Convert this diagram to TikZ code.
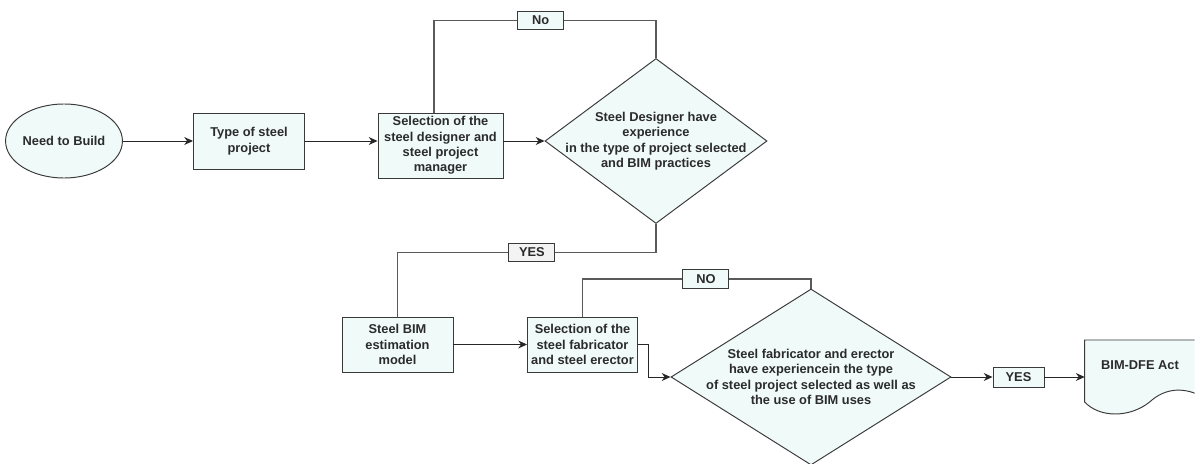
\documentclass[tikz,border=0pt]{standalone}
\usepackage{fontspec}
\setmainfont{Liberation Sans}
\usepackage{tikz}
\usetikzlibrary{calc}
\usetikzlibrary{arrows.meta}
\usetikzlibrary{shapes.geometric}
\usetikzlibrary{backgrounds}
\definecolor{color_box}{HTML}{F0FAF9}
\definecolor{color_yes}{HTML}{F3F3F3}
\definecolor{color_border}{HTML}{3A3A3A}
\definecolor{color_line}{HTML}{5A5A5A}
\definecolor{color_arrow}{HTML}{262626}
\definecolor{color_text}{HTML}{2B2B2B}

\begin{document}
\begin{tikzpicture}[node distance=3.7cm, font=\fontsize{7.3}{8.8}\selectfont\bfseries, text=color_text, align=center]
  \tikzset{ % Specifications for style of nodes:
      base/.style = {rectangle, draw=color_border, line width=0.55pt, fill=color_box, inner sep=1pt, text centered},
      start/.style = {base, ellipse, inner sep=0pt, minimum width=2.24cm, minimum height=1.48cm},
      process/.style = {base, minimum width=2.22cm, minimum height=1.12cm},
      decision/.style = {base, diamond, inner sep=0pt},
      tag/.style = {base, minimum width=0.92cm, minimum height=0.37cm, inner sep=0pt},
      tagyes/.style = {tag, fill=color_yes},
      doc/.style = {minimum width=2.2cm, inner sep=0pt},
      link/.style = {draw=color_line, line width=0.65pt},
      arrow/.style = {draw=color_arrow, line width=0.55pt, -{Stealth[length=5pt, width=4.5pt]}},
  }
  \useasboundingbox (0,0) rectangle (23.9,9.26);
  \node (need) [start] at (1.28,6.44) {Need to Build};
  \node (type) [process, right of=need] {Type of steel\\project};
  \node (designer) [process, right of=type, xshift=0.13cm, yshift=-0.09cm, minimum width=2.5cm, minimum height=1.3cm] {Selection of the\\steel designer and\\steel project\\manager};
  \node (check1) [decision, right of=designer, xshift=0.61cm, yshift=0.09cm, minimum width=4.44cm, minimum height=3.3cm,
    label={center:Steel Designer have\\experience\\in the type of project selected\\and BIM practices}] {};

  \node (bim) [process, below of=designer, xshift=-0.86cm, yshift=-0.28cm, minimum height=1.1cm] {Steel BIM\\estimation\\model};
  \node (fabsel) [process, right of=bim, minimum width=2.2cm, minimum height=1.1cm] {Selection of the\\steel fabricator\\and steel erector};
  \node (check2) [decision, right of=fabsel, xshift=0.87cm, yshift=-0.65cm, minimum width=5.6cm, minimum height=3.52cm,
    label={center:Steel fabricator and erector\\have experiencein the type\\of steel project selected as well as\\the use of BIM uses}] {};
  \node (yes2) [tag, right of=check2, xshift=0.45cm, minimum width=1.02cm, minimum height=0.4cm] {YES};
  \node (act) [doc, right of=yes2, xshift=-1.27cm, yshift=0.24cm] {BIM-DFE Act};
  \begin{scope}[on background layer, shift={(act.west)}]
    \clip (-0.1,-1.2) rectangle (2.2,0.6);
    \draw[base] (0,0.5) -- (2.4,0.5) -- (2.4,-0.66) .. controls (2.0,-0.42) and (1.6,-0.46) .. (1.3,-0.74) .. controls (0.9,-1.06) and (0.3,-1.06) .. (0,-0.74) -- cycle;
  \end{scope}

  \draw[arrow] (need.east) -- (type.west);
  \draw[arrow] (type.east) -- (type.east -| designer.west);
  \draw[arrow] (designer.east |- check1.west) -- (check1.west);
  \draw[link] (check1.north) -- ++(0,0.75) -| node[tag, pos=0.26] (no1) {No} ($(designer.north)+(-0.13,0)$);
  \draw[link] (check1.south) -- ++(0,-0.57) -| node[tagyes, pos=0.24] (yes1) {YES} (bim.north);
  \draw[arrow] (bim.east) -- (fabsel.west);
  \draw[link] (check2.north) -- ++(0,0.19) -| node[tag, pos=0.23] (no2) {NO} (fabsel.north);
  \draw[arrow] (fabsel.east) -- ++(0.2,0) |- (check2.west);
  \draw[arrow] (check2.east) -- (yes2.west);
  \draw[arrow] (yes2.east) -- (yes2.east -| act.west);
\end{tikzpicture}
\end{document}
